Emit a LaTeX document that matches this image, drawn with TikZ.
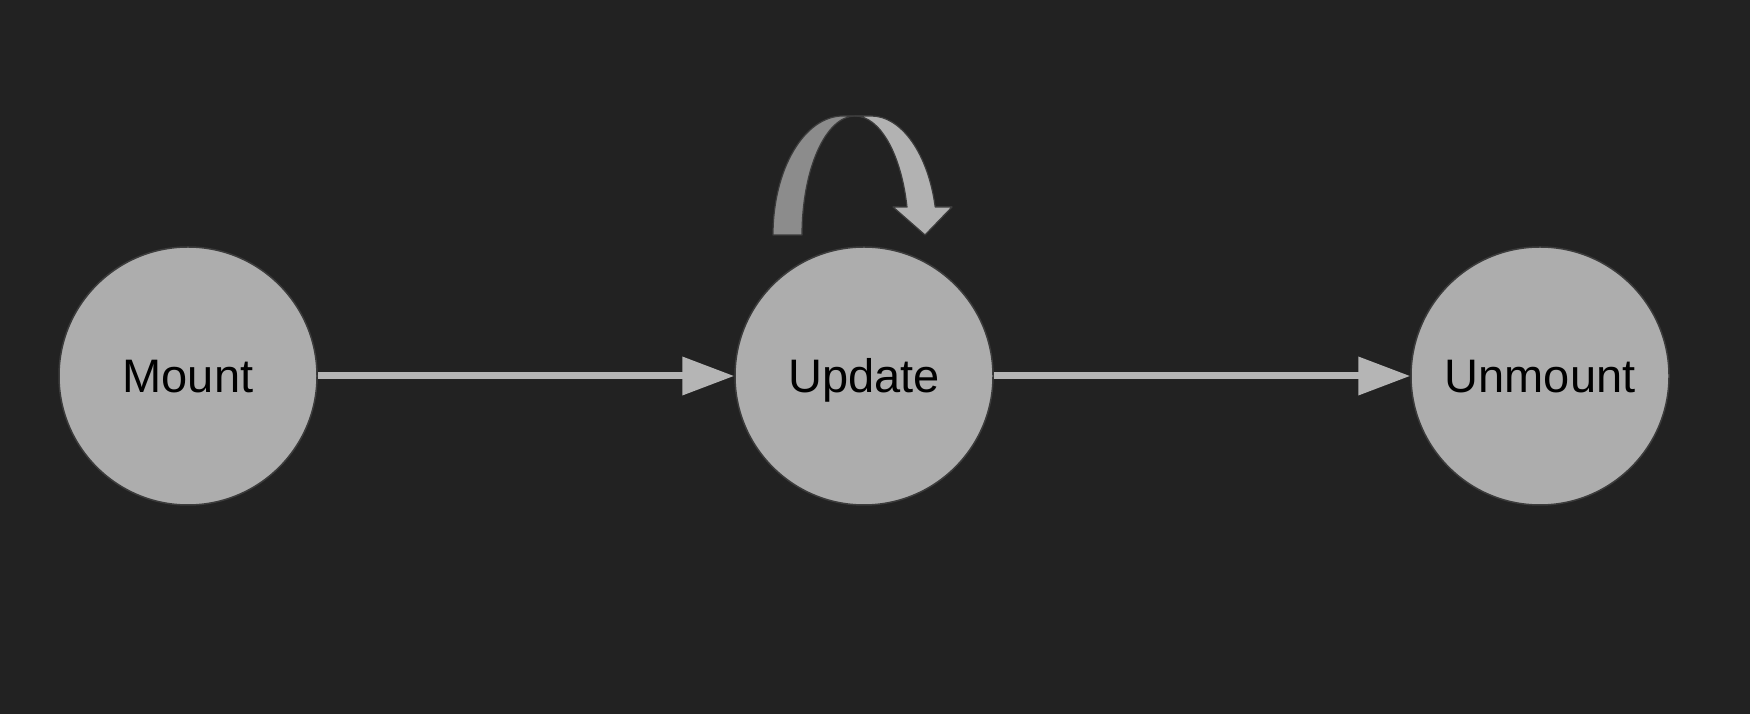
\documentclass[tikz,border=0pt]{standalone}
\usepackage{fontspec}
\setmainfont{Liberation Sans}
\usetikzlibrary{arrows.meta}
\definecolor{bg}{HTML}{222222}
\definecolor{nodefill}{HTML}{ADADAD}
\definecolor{nodeline}{HTML}{3C3C3C}
\definecolor{arrowcol}{HTML}{B5B5B5}
\definecolor{ribbondark}{HTML}{8C8C8C}
\definecolor{ribbonlight}{HTML}{B2B2B2}
\begin{document}
\begin{tikzpicture}[x=1pt,y=1pt,
  state/.style={circle,fill=nodefill,draw=nodeline,line width=1.5pt,minimum size=258pt,inner sep=0pt,
    font=\fontsize{47}{56}\selectfont,text=black,text height=33.6pt,text depth=0pt},
  flow/.style={draw=arrowcol,line width=7pt,-{Triangle[length=52pt,width=37pt]}},
  ribbon/.style={draw=nodeline,line width=1.2pt,line join=round}]
\fill[bg] (0,0) rectangle (1750,714);
\useasboundingbox (0,0) rectangle (1750,714);
\node[state] (mount) at (188,338) {Mount};
\node[state] (update) at (864,338) {Update};
\node[state] (unmount) at (1540,338) {Unmount};
\draw[flow] (mount) -- (update);
\draw[flow] (update) -- (unmount);
\begin{scope}[shift={(update.center)}]
  % left (back) band of the self-loop
  \filldraw[ribbon,fill=ribbondark] (-91,141) arc[start angle=180,end angle=90,x radius=70,y radius=119]
    -- (-9,260) arc[start angle=90,end angle=180,x radius=53,y radius=119] -- cycle;
  % right (front) band with arrowhead
  \filldraw[ribbon,fill=ribbonlight] (-9,260) arc[start angle=90,end angle=13.6,x radius=53.5,y radius=119]
    -- (29,169) -- (61,141) -- (88,169) -- (71.2,169)
    arc[start angle=13.6,end angle=90,x radius=66,y radius=119] -- cycle;
\end{scope}
\end{tikzpicture}
\end{document}
